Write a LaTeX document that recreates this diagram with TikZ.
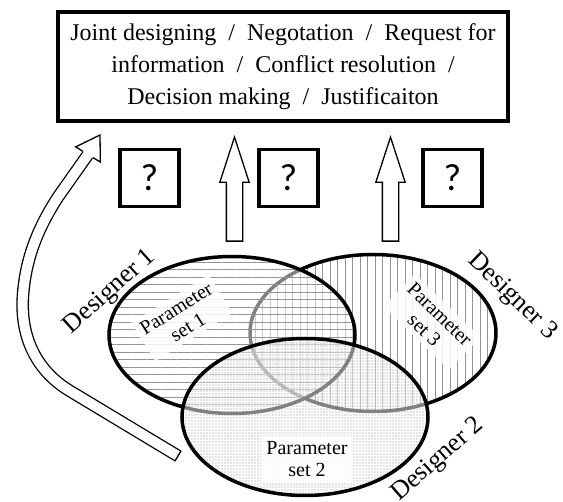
\documentclass[tikz,border=0pt]{standalone}
\usepackage{fontspec}
\setmainfont{Liberation Serif}
\newfontfamily\qfont{Carlito}
\usetikzlibrary{shapes.geometric, shapes.arrows, patterns.meta, calc}

\tikzset{
  taskbox/.style={rectangle, draw=black, line width=3.5pt, minimum width=450pt, minimum height=109pt, align=center, font=\fontsize{24}{32}\selectfont, inner sep=0pt},
  askbox/.style={rectangle, draw=black, line width=3.5pt, minimum width=59pt, minimum height=57pt, font=\qfont\fontsize{38}{40}\selectfont, inner sep=0pt},
  uparrow/.style={single arrow, draw=black, line width=1.3pt, fill=white, minimum height=104pt, minimum width=28pt, single arrow head extend=6.5pt, single arrow tip angle=36, inner xsep=0pt, inner ysep=7.5pt, rotate=90, anchor=tip},
  paramset/.style={ellipse, draw=black, line width=3.5pt, minimum width=246pt, minimum height=157pt, inner sep=0pt},
  wash/.style={preaction={fill=white, fill opacity=0.5}},
  setlabel/.style={align=center, font=\fontsize{20}{22}\selectfont, fill=white, fill opacity=0.85, text opacity=1, inner sep=5pt},
  designer/.style={font=\fontsize{26}{28}\selectfont, inner sep=0pt},
  hollow/.style={draw=black, line width=1.3pt, double=white, double distance=10pt}
}

\begin{document}
\begin{tikzpicture}[x=1pt, y=-1pt]
\useasboundingbox (0,0) rectangle (563,502);

% Parameter sets
\node[paramset, pattern={Lines[angle=90, distance=7.5pt, line width=0.8pt]}, pattern color=gray!85] (third) at (373,333) {};
\node[paramset, wash, pattern={Lines[angle=0, distance=7.5pt, line width=0.8pt]}, pattern color=gray!85] (first) at (232,335) {};
\node[paramset, wash, pattern={Dots[distance=3pt, radius=0.6pt]}, pattern color=gray!90] (second) at (305,417) {};

\node[setlabel, rotate=32] (labelA) at (182,318) {Parameter\\set 1};
\node[setlabel] (labelB) at (307,459) {Parameter\\set 2};
\node[setlabel, rotate=-44] (labelC) at (432,322) {Parameter\\set 3};

\node[designer, rotate=42] (nameA) at (110,292) {Designer 1};
\node[designer, rotate=41] (nameB) at (438,460) {Designer 2};
\node[designer, rotate=-44] (nameC) at (512,297) {Designer 3};

% Activities and unknowns
\node[taskbox] (tasks) at (283,66.5) {Joint designing~~/~~Negotation~~/~~Request for\\information~~/~~Conflict resolution~~/\\Decision making~~/~~Justificaiton};
\node[askbox] (askA) at (149.5,178) {?};
\node[askbox] (askB) at (288.5,178) {?};
\node[askbox] (askC) at (452.5,178) {?};

\node[uparrow] (liftA) at (234.5,135) {};
\node[uparrow] (liftB) at (390.5,135) {};

% Curved arrow
\coordinate (tail) at (178,456);
\coordinate (bend) at (70,391);
\coordinate (tip) at (100,135);
\coordinate (base) at (88,154.5);
\draw[hollow] (tail) -- (bend) .. controls (35,370) and (20,335) .. (23,295) .. controls (26,255) and (40,225) .. (58,197) -- (base);
\draw[line width=1.3pt] ($(tail)!6pt!90:(bend)$) -- ($(tail)!6pt!-90:(bend)$);
\draw[line width=1.3pt, fill=white] ($(base)!6pt!90:(tip)$) -- ($(base)!14.5pt!90:(tip)$) -- (tip) -- ($(base)!14.5pt!-90:(tip)$) -- ($(base)!6pt!-90:(tip)$);

\end{tikzpicture}
\end{document}
